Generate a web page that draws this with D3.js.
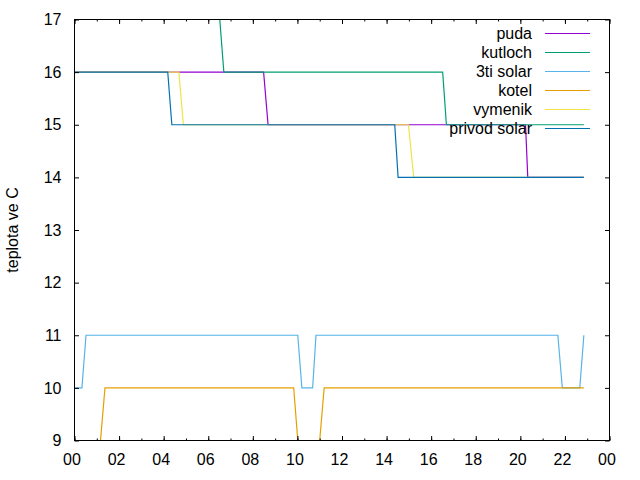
<!DOCTYPE html>
<html>
  <head>
    <script src="https://d3js.org/d3.v7.min.js"></script>
    <style>
      body { margin: 0; background: #fff; }
      text { font-family: "Liberation Sans", Arial, sans-serif; }
    </style>
  </head>
  <body>
    <svg width="640" height="480"></svg>
    <script>
      // series: [time, temperature]
      var puda = [["00:00", 16], ["08:29", 16], ["08:41", 15], ["20:14", 15], ["20:20", 14], ["22:51", 14]];
      var kutloch = [["00:00", 17], ["06:31", 17], ["06:42", 16], ["16:31", 16], ["16:41", 15], ["22:51", 15]];
      var solar3 = [["00:00", 10], ["00:20", 10], ["00:31", 11], ["10:01", 11], ["10:12", 10], ["10:41", 10], ["10:50", 11],
                    ["21:41", 11], ["21:53", 10], ["22:40", 10], ["22:51", 11]];
      var kotel = [["00:00", 9], ["01:10", 9], ["01:22", 10], ["09:50", 10], ["10:01", 9], ["11:00", 9], ["11:12", 10], ["22:51", 10]];
      var vymenik = [["00:00", 16], ["04:41", 16], ["04:53", 15], ["14:59", 15], ["15:13", 14], ["22:51", 14]];
      var privod = [["00:00", 16], ["04:11", 16], ["04:22", 15], ["14:22", 15], ["14:31", 14], ["22:51", 14]];

      var seriesNames = ["puda", "kutloch", "3ti solar", "kotel", "vymenik", "privod solar"];
      var seriesData = [puda, kutloch, solar3, kotel, vymenik, privod];
      var colors = ["#9400d3", "#009e73", "#56b4e9", "#e69f00", "#f0e442", "#0072b2"];
      var yTicks = [9, 10, 11, 12, 13, 14, 15, 16, 17];

      var svg = d3.select("svg");
      var pLeft = 74.5, pRight = 609.5, pTop = 19.5, pBottom = 440.5;
      var parseTime = (s) => d3.timeParse("%Y-%m-%d %H:%M")("2020-01-01 " + s);
      var t0 = parseTime("00:00");
      var t1 = d3.timeDay.offset(t0, 1);

      var xScale = d3.scaleTime().domain([t0, t1]).range([pLeft, pRight]);
      var yScale = d3.scaleLinear().domain([9, 17]).range([pBottom, pTop]);

      svg.append("defs").append("clipPath").attr("id", "clip")
        .append("rect").attr("x", pLeft).attr("y", pTop)
        .attr("width", pRight - pLeft).attr("height", pBottom - pTop);

      var lineGenerator = d3.line()
        .x((d) => xScale(parseTime(d[0])))
        .y((d) => yScale(d[1]));

      var g = svg.append("g").attr("clip-path", "url(#clip)");
      seriesData.forEach((data, i) => {
        g.append("path")
          .attr("fill", "none")
          .attr("stroke", colors[i])
          .attr("stroke-width", 1.2)
          .attr("d", lineGenerator(data));
      });

      // axes with inward ticks
      var hours2 = d3.timeHour.every(2).range(t0, d3.timeMinute.offset(t1, 1));
      var hours1 = d3.timeHour.every(1).range(t0, d3.timeMinute.offset(t1, 1));
      var fmt = d3.timeFormat("%H");

      function styleAxis(sel) {
        sel.select(".domain").remove();
        sel.selectAll("line").attr("stroke", "#000");
        sel.selectAll("text").attr("font-size", 16).attr("fill", "#000")
          .style("font-family", "'Liberation Sans', Arial, sans-serif");
      }

      svg.append("g").attr("transform", "translate(0," + pBottom + ")")
        .call(d3.axisBottom(xScale).tickValues(hours1).tickFormat("").tickSizeInner(-2).tickSizeOuter(0))
        .call(styleAxis);
      svg.append("g").attr("transform", "translate(0," + pBottom + ")")
        .call(d3.axisBottom(xScale).tickValues(hours2).tickFormat(fmt).tickSizeInner(-4.5).tickSizeOuter(0).tickPadding(13))
        .call(styleAxis)
        .call((a) => a.selectAll("text").attr("dx", -3));
      svg.append("g").attr("transform", "translate(0," + pTop + ")")
        .call(d3.axisTop(xScale).tickValues(hours1).tickFormat("").tickSizeInner(-2).tickSizeOuter(0))
        .call(styleAxis);
      svg.append("g").attr("transform", "translate(0," + pTop + ")")
        .call(d3.axisTop(xScale).tickValues(hours2).tickFormat("").tickSizeInner(-4.5).tickSizeOuter(0))
        .call(styleAxis);
      svg.append("g").attr("transform", "translate(" + pLeft + ",0)")
        .call(d3.axisLeft(yScale).tickValues(yTicks).tickFormat(d3.format("d")).tickSizeInner(-4.5).tickSizeOuter(0).tickPadding(13))
        .call(styleAxis);
      svg.append("g").attr("transform", "translate(" + pRight + ",0)")
        .call(d3.axisRight(yScale).tickValues(yTicks).tickFormat("").tickSizeInner(-4.5).tickSizeOuter(0))
        .call(styleAxis);

      svg.append("rect")
        .attr("x", pLeft).attr("y", pTop)
        .attr("width", pRight - pLeft).attr("height", pBottom - pTop)
        .attr("fill", "none").attr("stroke", "#000").attr("stroke-width", 1);

      svg.append("text")
        .attr("transform", "translate(17.5," + (pTop + pBottom) / 2 + ") rotate(-90)")
        .attr("text-anchor", "middle")
        .attr("font-size", 16)
        .text("teplota ve C");

      // legend
      var legend = svg.append("g");
      seriesNames.forEach((name, i) => {
        var y = 33.5 + i * 19;
        legend.append("text")
          .attr("x", 532).attr("y", y).attr("dy", "0.35em")
          .attr("text-anchor", "end").attr("font-size", 16)
          .text(name);
        legend.append("line")
          .attr("x1", 545).attr("x2", 590).attr("y1", y).attr("y2", y)
          .attr("stroke", colors[i]).attr("stroke-width", 1.2);
      });
    </script>
  </body>
</html>
